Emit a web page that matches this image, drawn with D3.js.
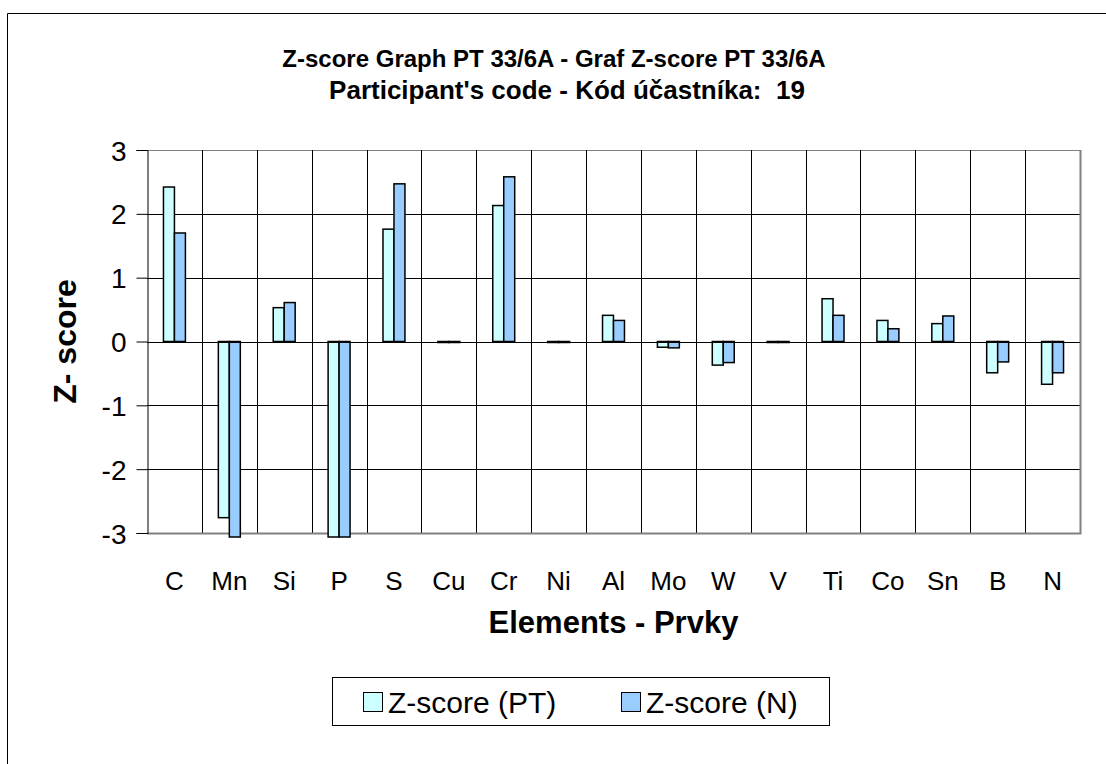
<!DOCTYPE html>
<html>
<head>
<meta charset="utf-8">
<script src="https://cdn.jsdelivr.net/npm/d3@7"></script>
<style>
  body { margin: 0; background: #fff; }
  svg { display: block; font-family: "Liberation Sans", Arial, sans-serif; }
</style>
</head>
<body>
<div id="chart"></div>
<script>
// data
const elements = ["C", "Mn", "Si", "P", "S", "Cu", "Cr", "Ni", "Al", "Mo", "W", "V", "Ti", "Co", "Sn", "B", "N"];
const zPT = [2.42, -2.76, 0.53, -3.9, 1.76, 0, 2.13, 0, 0.41, -0.09, -0.37, 0, 0.67, 0.33, 0.28, -0.49, -0.67];
const zN  = [1.70, -3.9, 0.61, -3.9, 2.47, 0, 2.58, 0, 0.33, -0.10, -0.33, 0, 0.41, 0.20, 0.40, -0.32, -0.49];
const yTicks = [3, 2, 1, 0, -1, -2, -3];
const seriesNames = ["Z-score (PT)", "Z-score (N)"];
const seriesColors = ["#CCFFFF", "#99CCFF"];

const width = 1106, height = 764;
const plot = { left: 147, right: 1080, top: 150, bottom: 533 };

const svg = d3.select("#chart").append("svg")
  .attr("width", width)
  .attr("height", height);

// outer chart border (only left + top visible)
svg.append("path")
  .attr("d", `M7.5,${height} V13.5 H${width}`)
  .attr("fill", "none")
  .attr("stroke", "#000");

// Title
svg.append("text")
  .attr("x", 554).attr("y", 67)
  .attr("text-anchor", "middle")
  .attr("font-weight", "bold")
  .attr("font-size", 24)
  .text("Z-score Graph PT 33/6A - Graf Z-score PT 33/6A");
svg.append("text")
  .attr("x", 567).attr("y", 99)
  .attr("text-anchor", "middle")
  .attr("font-weight", "bold")
  .attr("font-size", 26)
  .style("white-space", "pre")
  .text("Participant's code - Kód účastníka:  19");

// Scales
const x = d3.scaleBand().domain(elements).range([plot.left, plot.right]).paddingInner(0).paddingOuter(0);
const y = d3.scaleLinear().domain([-3, 3]).range([plot.bottom, plot.top]);
const barW = x.bandwidth() / 5;

// Gridlines
const grid = svg.append("g");
grid.selectAll("line.h").data(yTicks.filter(d => d !== -3)).join("line")
  .attr("x1", plot.left).attr("x2", plot.right)
  .attr("y1", d => Math.round(y(d)) + 0.5).attr("y2", d => Math.round(y(d)) + 0.5)
  .attr("stroke", d => d === 3 ? "#808080" : "#000");
grid.selectAll("line.v").data(elements.slice(1)).join("line")
  .attr("x1", d => Math.round(x(d)) + 0.5).attr("x2", d => Math.round(x(d)) + 0.5)
  .attr("y1", plot.top).attr("y2", plot.bottom)
  .attr("stroke", "#000");
// right and bottom plot border
svg.append("path")
  .attr("d", `M${plot.right + 0.5},${plot.top} V${plot.bottom + 0.5} H${plot.left}`)
  .attr("fill", "none")
  .attr("stroke", "#808080")
  .attr("stroke-width", 2);

// Bars
const rows = elements.map((e, i) => ({ e, vals: [zPT[i], zN[i]] }));
const clipBottom = plot.bottom + 4;
const groups = svg.append("g").selectAll("g").data(rows).join("g");
groups.selectAll("rect").data(d => d.vals.map((v, k) => ({ e: d.e, v, k }))).join("rect")
  .attr("x", d => x(d.e) + x.bandwidth() / 2 - barW + d.k * barW)
  .attr("width", barW)
  .attr("y", d => d.v >= 0 ? y(d.v) : y(0))
  .attr("height", d => Math.max(1, d.v >= 0 ? y(0) - y(d.v) : Math.min(y(d.v), clipBottom) - y(0)))
  .attr("fill", d => seriesColors[d.k])
  .attr("stroke", "#000")
  .attr("stroke-width", 1.5);

// Y axis
const yAxis = svg.append("g")
  .attr("transform", `translate(${plot.left + 0.5},0)`)
  .call(d3.axisLeft(y).tickValues(yTicks).tickSize(11).tickPadding(10).tickFormat(d3.format("d")));
yAxis.select(".domain").attr("stroke", "#000");
yAxis.selectAll(".tick line").attr("stroke", "#000");
yAxis.selectAll(".tick text")
  .attr("font-size", 28)
  .attr("font-family", "Liberation Sans, Arial, sans-serif")
  .attr("fill", "#000")
  .attr("dy", "0.36em")
  .text(d => d < 0 ? "-" + Math.abs(d) : d);

// zero line
svg.append("line")
  .attr("x1", plot.left).attr("x2", plot.right)
  .attr("y1", Math.round(y(0)) + 0.5).attr("y2", Math.round(y(0)) + 0.5)
  .attr("stroke", "#000");

// X labels
svg.append("g").selectAll("text").data(elements).join("text")
  .attr("x", d => x(d) + x.bandwidth() / 2)
  .attr("y", 590)
  .attr("text-anchor", "middle")
  .attr("font-size", 26)
  .text(d => d);

// Axis titles
svg.append("text")
  .attr("x", (plot.left + plot.right) / 2)
  .attr("y", 633)
  .attr("text-anchor", "middle")
  .attr("font-weight", "bold")
  .attr("font-size", 31)
  .text("Elements - Prvky");

svg.append("text")
  .attr("transform", `translate(76,${(plot.top + plot.bottom) / 2}) rotate(-90)`)
  .attr("text-anchor", "middle")
  .attr("font-weight", "bold")
  .attr("font-size", 32)
  .text("Z- score");

// Legend
const legend = svg.append("g");
legend.append("rect")
  .attr("x", 332.5).attr("y", 677.5)
  .attr("width", 497).attr("height", 48)
  .attr("fill", "#fff").attr("stroke", "#000");
const legendX = [363, 621];
const items = legend.selectAll("g").data(seriesNames).join("g")
  .attr("transform", (d, i) => `translate(${legendX[i]},0)`);
items.append("rect")
  .attr("x", 0.5).attr("y", 692.5)
  .attr("width", 19).attr("height", 19)
  .attr("fill", (d, i) => seriesColors[i])
  .attr("stroke", "#000");
items.append("text")
  .attr("x", 25).attr("y", 713)
  .attr("font-size", 30)
  .text(d => d);
</script>
</body>
</html>
